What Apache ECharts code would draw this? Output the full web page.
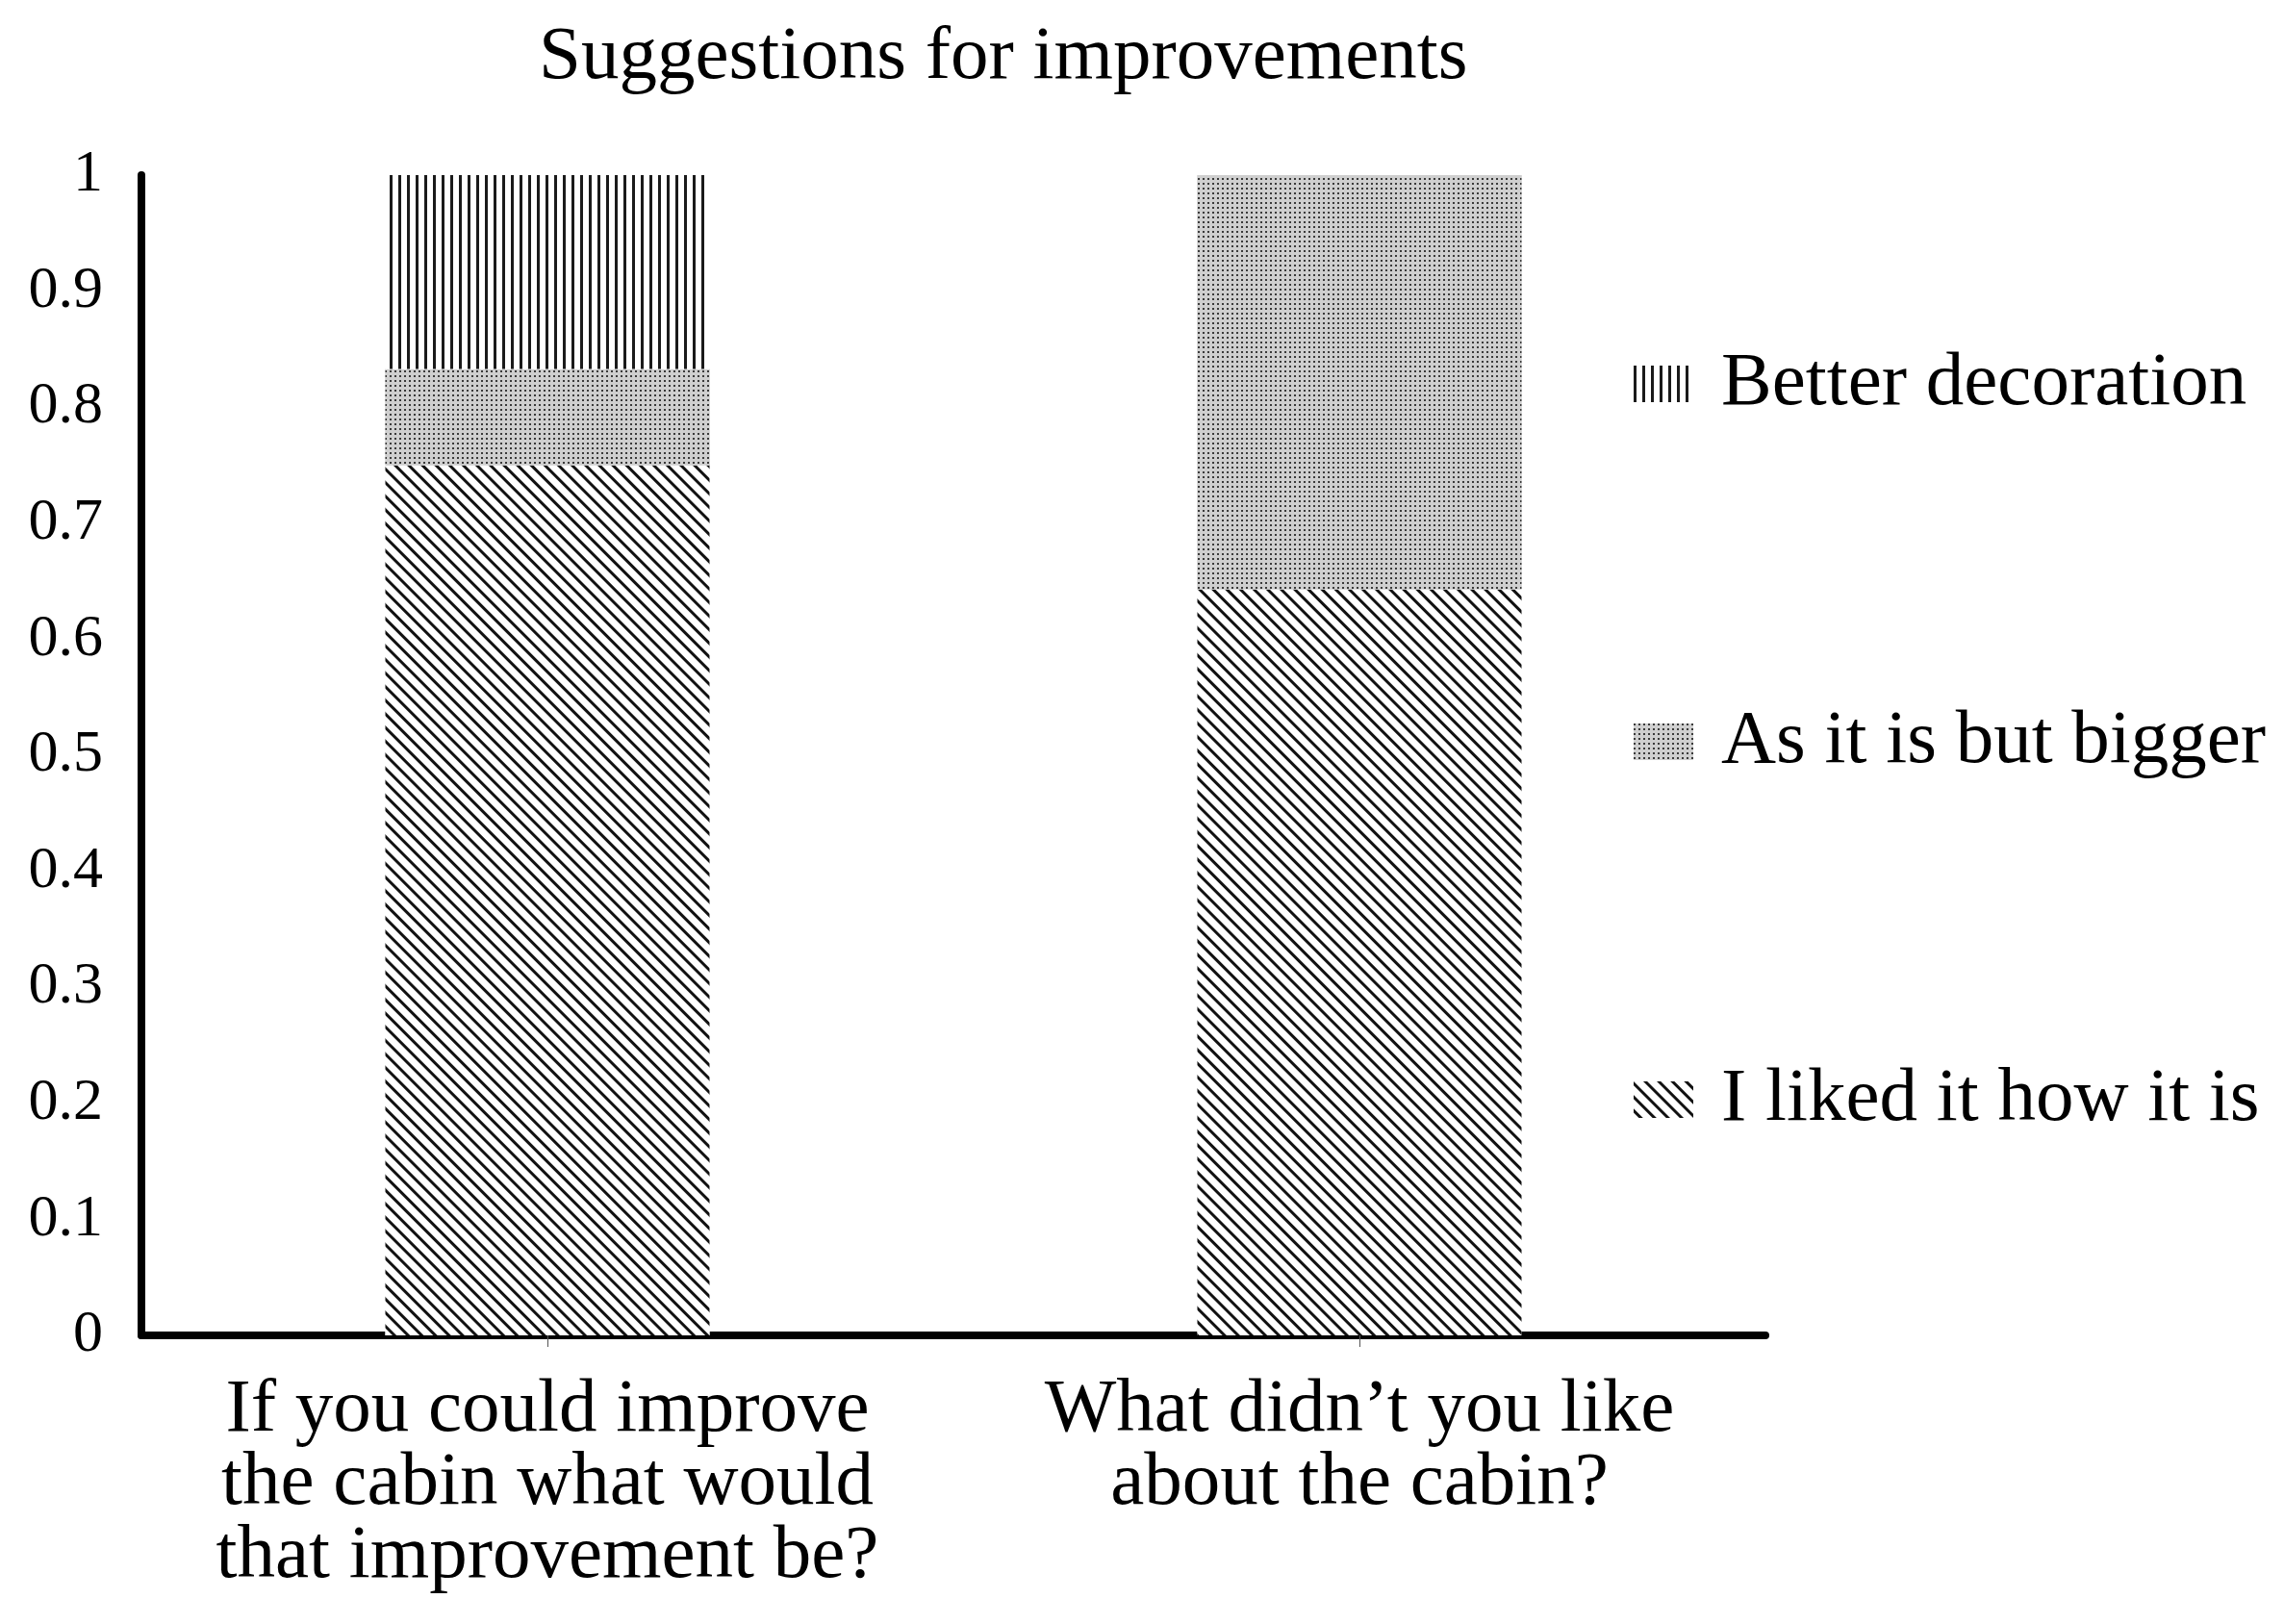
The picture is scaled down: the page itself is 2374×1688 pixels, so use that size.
<!DOCTYPE html>
<html>
<head>
<meta charset="utf-8">
<title>Suggestions for improvements</title>
<script src="https://cdn.jsdelivr.net/npm/echarts@6.0.0/dist/echarts.min.js"></script>
<style>
  html, body { margin: 0; padding: 0; background: #ffffff; }
  #chart { width: 2374px; height: 1688px; }
</style>
</head>
<body>
<div id="chart"></div>
<script>
// data (shares of answers)
const categories = [
  'If you could improve\nthe cabin what would\nthat improvement be?',
  'What didn\u2019t you like\nabout the cabin?'
]
const likedAsIs = [0.75, 0.643]
const asItIsButBigger = [0.083, 0.357]
const betterDecoration = [0.167, 0]
const legendOrder = ['Better decoration', 'As it is but bigger', 'I liked it how it is']

const FONT = '"Liberation Serif", "DejaVu Serif", serif'

const myChart = echarts.init(document.getElementById('chart'), null, { renderer: 'canvas' })

const patterns = {
  diagonal: {
    symbol: 'rect',
    symbolSize: 1,
    color: '#111111',
    backgroundColor: '#ffffff',
    dashArrayX: [1, 0],
    dashArrayY: [3, 7],
    rotation: Math.PI / 4
  },
  dots: {
    symbol: 'rect',
    symbolSize: 1,
    color: '#3a3a3a',
    backgroundColor: '#cfcfcf',
    dashArrayX: [2, 3],
    dashArrayY: [2, 3],
    rotation: 0
  },
  vertical: {
    symbol: 'rect',
    symbolSize: 1,
    color: '#1a1a1a',
    backgroundColor: '#ffffff',
    dashArrayX: [3, 6],
    dashArrayY: [1, 0],
    rotation: 0
  }
}

const makeSeries = (name, data, fill, decal) => {
  return {
    name: name,
    type: 'bar',
    stack: 'total',
    barWidth: 337,
    data: data,
    itemStyle: {
      color: fill,
      decal: decal
    },
    emphasis: { disabled: true }
  }
}

const option = {
  backgroundColor: '#ffffff',
  animation: false,
  title: {
    text: 'Suggestions for improvements',
    left: 555,
    top: 10,
    textStyle: {
      fontFamily: FONT,
      fontSize: 79,
      fontWeight: 'normal',
      color: '#000000',
      lineHeight: 90
    }
  },
  legend: {
    orient: 'vertical',
    left: 1693,
    top: 354,
    icon: 'rect',
    itemWidth: 62,
    itemHeight: 38,
    itemGap: 292,
    data: legendOrder,
    textStyle: {
      fontFamily: FONT,
      fontSize: 79,
      color: '#000000',
      lineHeight: 80,
      padding: [0, 0, 0, 24]
    }
  },
  grid: {
    left: 147,
    right: 539,
    top: 182,
    bottom: 300,
    containLabel: false
  },
  xAxis: {
    type: 'category',
    data: categories,
    axisLine: {
      show: true,
      lineStyle: { color: '#000000', width: 8 }
    },
    axisTick: {
      show: true,
      alignWithLabel: true,
      length: 12,
      lineStyle: { color: '#555555', width: 1 }
    },
    axisLabel: {
      margin: 40,
      fontFamily: FONT,
      fontSize: 79,
      lineHeight: 76,
      color: '#000000',
      interval: 0
    },
    splitLine: { show: false }
  },
  yAxis: {
    type: 'value',
    min: 0,
    max: 1,
    interval: 0.1,
    axisLine: {
      show: true,
      lineStyle: { color: '#000000', width: 8 }
    },
    axisTick: { show: false },
    axisLabel: {
      margin: 40,
      fontFamily: FONT,
      fontSize: 62,
      color: '#000000'
    },
    splitLine: { show: false }
  },
  series: [
    makeSeries('I liked it how it is', likedAsIs, '#ffffff', patterns.diagonal),
    makeSeries('As it is but bigger', asItIsButBigger, '#cfcfcf', patterns.dots),
    makeSeries('Better decoration', betterDecoration, '#ffffff', patterns.vertical)
  ]
}

myChart.setOption(option)
</script>
</body>
</html>
